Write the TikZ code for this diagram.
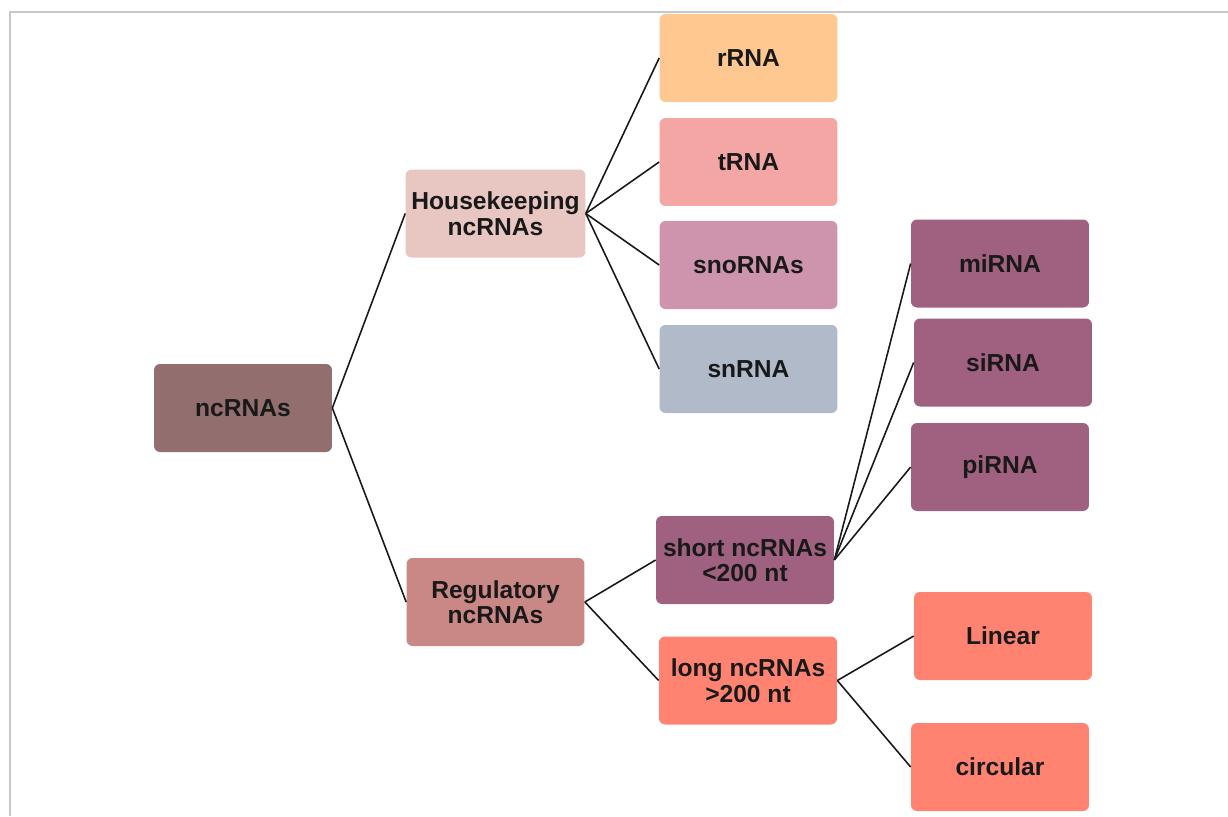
\documentclass[tikz,border=0pt]{standalone}
\usepackage{fontspec}
\setmainfont{Liberation Sans}

\definecolor{rootcol}{HTML}{926F6E}
\definecolor{housecol}{HTML}{E8C6C2}
\definecolor{regcol}{HTML}{C98886}
\definecolor{rrnacol}{HTML}{FFC891}
\definecolor{trnacol}{HTML}{F4A6A4}
\definecolor{snocol}{HTML}{CE94AD}
\definecolor{sncol}{HTML}{B1BAC9}
\definecolor{shortcol}{HTML}{A0607F}
\definecolor{longcol}{HTML}{FF8370}
\definecolor{framecol}{HTML}{C8C8C8}

\tikzset{
  box/.style={rectangle, rounded corners=0.12cm, minimum width=3.56cm,
    minimum height=1.76cm, align=center, text=black!90,
    font=\fontsize{14}{14.5}\selectfont\bfseries},
  link/.style={draw=black!90, line width=0.9pt},
}

\begin{document}
\begin{tikzpicture}[x=0.02cm, y=-0.02cm]  % ------ ncRNA classes -----------
    \useasboundingbox (0,0) rectangle (1228,816);
    \draw[framecol, line width=1.1pt] (10,816) -- (10,12) -- (1228,12);

    % root and first level
    \node[box, fill=rootcol] (nc) at (243,408) {ncRNAs};
    \node[box, fill=housecol] (hk) at (495.5,213.5) {Housekeeping\\ncRNAs};
    \node[box, fill=regcol] (reg) at (495.5,602) {Regulatory\\ncRNAs};

    % housekeeping classes
    \node[box, fill=rrnacol] (rrna) at (748.5,58) {rRNA};
    \node[box, fill=trnacol] (trna) at (748.5,162) {tRNA};
    \node[box, fill=snocol] (sno) at (748.5,265) {snoRNAs};
    \node[box, fill=sncol] (snrna) at (748.5,369) {snRNA};

    % regulatory classes
    \node[box, fill=shortcol] (short) at (745,560) {short ncRNAs\\<200 nt};
    \node[box, fill=longcol] (long) at (748,680.5) {long ncRNAs\\>200 nt};

    \node[box, fill=shortcol] (mirna) at (1000,263.5) {miRNA};
    \node[box, fill=shortcol] (sirna) at (1003,362.5) {siRNA};
    \node[box, fill=shortcol] (pirna) at (1000,467) {piRNA};
    \node[box, fill=longcol] (lin) at (1003,636) {Linear};
    \node[box, fill=longcol] (circ) at (1000,767) {circular};

    \draw[link] (nc.east) -- (hk.west);
    \draw[link] (nc.east) -- (reg.west);
    \foreach \k in {rrna,trna,sno,snrna}
      \draw[link] (hk.east) -- (\k.west);
    \draw[link] (reg.east) -- (short.west);
    \draw[link] (reg.east) -- (long.west);
    \foreach \k in {mirna,sirna,pirna}
      \draw[link] (short.east) -- (\k.west);
    \draw[link] (long.east) -- (lin.west);
    \draw[link] (long.east) -- (circ.west);
\end{tikzpicture}
\end{document}
